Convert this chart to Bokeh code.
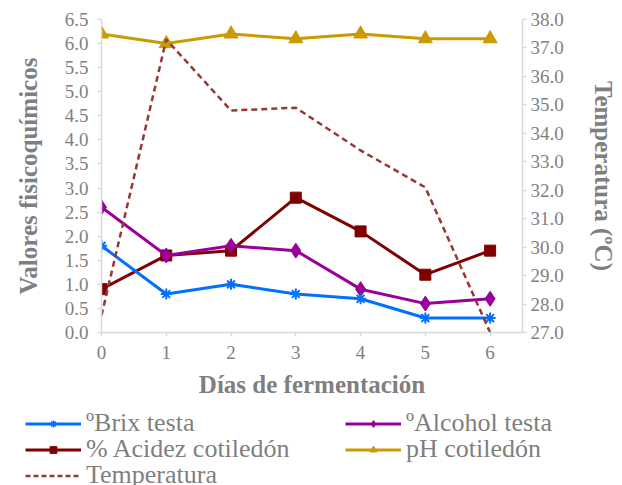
from bokeh.plotting import figure
from bokeh.layouts import column
from bokeh.models import (Range1d, LinearAxis, FixedTicker, NumeralTickFormatter,
                          Legend, LegendItem)
from bokeh.embed import file_html
from bokeh.resources import INLINE

dias = [0, 1, 2, 3, 4, 5, 6]
brix_testa = [1.8, 0.8, 1.0, 0.8, 0.7, 0.3, 0.3]
alcohol_testa = [2.6, 1.6, 1.8, 1.7, 0.9, 0.6, 0.7]
acidez_cotiledon = [0.9, 1.6, 1.7, 2.8, 2.1, 1.2, 1.7]
ph_cotiledon = [6.2, 6.0, 6.2, 6.1, 6.2, 6.1, 6.1]
temperatura = [27.6, 37.3, 34.8, 34.9, 33.4, 32.1, 27.0]

left_ticks = [i * 0.5 for i in range(14)]
right_ticks = [27, 28, 29, 30, 31, 32, 33, 34, 35, 36, 37, 38]

FONT = "Liberation Serif"
GREY = "#7f7f7f"
AXIS = "#d9d9d9"

c_brix = "#0070ff"
c_alc = "#990099"
c_aci = "#800000"
c_ph = "#cc9900"
c_temp = "#953735"

p = figure(width=622, height=406, output_backend="svg", toolbar_location=None,
           x_range=Range1d(0, 6.5), y_range=Range1d(0, 6.5),
           min_border_left=101, min_border_right=100, min_border_top=19,
           min_border_bottom=74)
p.frame_align = False
p.outline_line_color = None
p.xgrid.visible = False
p.ygrid.visible = False
p.extra_y_ranges = {"temp": Range1d(27, 38)}
right = LinearAxis(y_range_name="temp")
p.add_layout(right, "right")

for ax in [p.xaxis[0], p.yaxis[0], right]:
    ax.axis_line_color = AXIS
    ax.axis_line_width = 1.5
    ax.major_tick_line_color = AXIS
    ax.major_tick_line_width = 1.5
    ax.major_tick_out = 4
    ax.major_tick_in = 0
    ax.minor_tick_line_color = None
    ax.major_label_text_font = FONT
    ax.major_label_text_font_size = "19px"
    ax.major_label_text_color = GREY
    ax.axis_label_text_font = FONT
    ax.axis_label_text_font_size = "25px"
    ax.axis_label_text_font_style = "bold"
    ax.axis_label_text_color = GREY

p.xaxis[0].ticker = FixedTicker(ticks=dias)
p.xaxis[0].axis_label = "Días de fermentación"
p.xaxis[0].major_label_standoff = 9
p.xaxis[0].axis_label_standoff = 9

p.yaxis[0].ticker = FixedTicker(ticks=left_ticks)
p.yaxis[0].formatter = NumeralTickFormatter(format="0.0")
p.yaxis[0].axis_label = "Valores fisicoquímicos"
p.yaxis[0].major_label_standoff = 9
p.yaxis[0].axis_label_standoff = 20

right.ticker = FixedTicker(ticks=right_ticks)
right.formatter = NumeralTickFormatter(format="0.0")
right.axis_label = "Temperatura (ºC)"
right.major_label_standoff = 4
right.axis_label_standoff = 23

p.line(dias, ph_cotiledon, line_color=c_ph, line_width=3)
p.scatter(dias, ph_cotiledon, marker="triangle", size=14, color=c_ph)
p.line(dias, acidez_cotiledon, line_color=c_aci, line_width=3)
p.scatter(dias, acidez_cotiledon, marker="square", size=11, color=c_aci)
p.line(dias, alcohol_testa, line_color=c_alc, line_width=3)
p.scatter(dias, alcohol_testa, marker="diamond", size=15, color=c_alc)
p.line(dias, brix_testa, line_color=c_brix, line_width=3)
p.scatter(dias, brix_testa, marker="asterisk", size=11, line_color=c_brix, line_width=2)
p.line(dias, temperatura, y_range_name="temp", line_color=c_temp,
       line_width=2.5, line_dash="6 4")

# legend strip (entries styled like the series above; proxies hold no visible data)
q = figure(width=622, height=79, output_backend="svg", toolbar_location=None,
           x_range=Range1d(0, 1), y_range=Range1d(0, 1),
           min_border_left=0, min_border_right=0, min_border_top=0,
           min_border_bottom=0, x_axis_type=None, y_axis_type=None)
q.frame_align = False
q.outline_line_color = None
q.xgrid.visible = False
q.ygrid.visible = False

nan = float("nan")
e = dict(x=[nan], y=[nan])
r_brix = [q.line(line_color=c_brix, line_width=3, **e),
          q.scatter(marker="asterisk", line_color=c_brix, line_width=1.5, **e)]
r_aci = [q.line(line_color=c_aci, line_width=3, **e),
         q.scatter(marker="square", color=c_aci, **e)]
r_temp = [q.line(line_color=c_temp, line_width=2.5, line_dash="5 3", **e)]
r_alc = [q.line(line_color=c_alc, line_width=3, **e),
         q.scatter(marker="diamond", color=c_alc, **e)]
r_ph = [q.line(line_color=c_ph, line_width=3, **e),
        q.scatter(marker="triangle", color=c_ph, **e)]

def mk_legend(label, rends, loc):
    lg = Legend(items=[LegendItem(label=label, renderers=rends)], location=loc)
    lg.background_fill_alpha = 0
    lg.border_line_color = None
    lg.padding = 0
    lg.margin = 0
    lg.spacing = 0
    lg.glyph_width = 56
    lg.glyph_height = 17
    lg.label_height = 26
    lg.label_standoff = 5
    lg.label_text_font = FONT
    lg.label_text_font_size = "26px"
    lg.label_text_color = GREY
    lg.label_text_baseline = "middle"
    q.add_layout(lg, "center")

mk_legend("ºBrix testa", r_brix, (25, 47))
mk_legend("% Acidez cotiledón", r_aci, (25, 21))
mk_legend("Temperatura", r_temp, (25, -5))
mk_legend("ºAlcohol testa", r_alc, (345, 47))
mk_legend("pH cotiledón", r_ph, (345, 21))

open("out.html", "w").write(file_html(column(p, q), INLINE))
